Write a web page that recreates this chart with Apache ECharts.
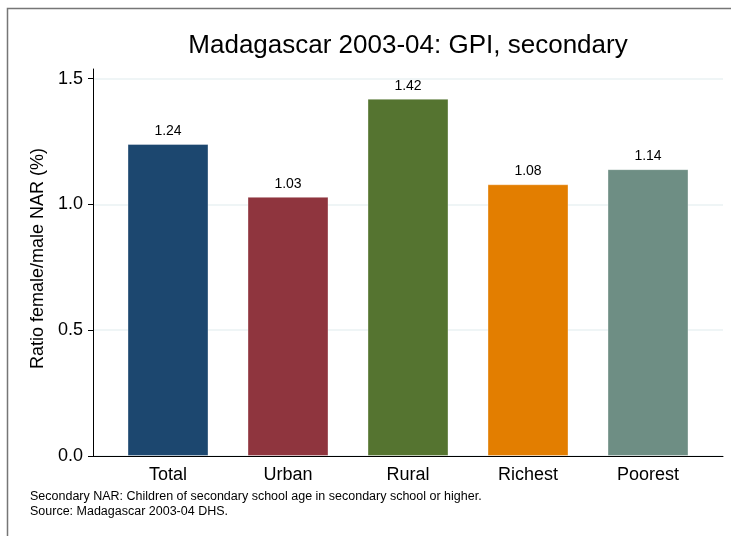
<!DOCTYPE html>
<html>
<head>
<meta charset="utf-8">
<script src="https://cdn.jsdelivr.net/npm/echarts@6/dist/echarts.min.js"></script>
<style>
  html, body { margin: 0; padding: 0; background: #fff; }
  #chart { width: 731px; height: 536px; }
</style>
</head>
<body>
<div id="chart"></div>
<script>
// data
const categories = ['Total', 'Urban', 'Rural', 'Richest', 'Poorest']
const gpiValues = [1.24, 1.03, 1.42, 1.08, 1.14]
const barColors = ['#1c476f', '#8f353e', '#557430', '#e37e00', '#6e8e84']
const yTicks = [0, 0.5, 1.0, 1.5]
const catPositions = [1, 2, 3, 4, 5]
const notes = [
  'Secondary NAR: Children of secondary school age in secondary school or higher.',
  'Source: Madagascar 2003-04 DHS.'
]

const font = '"Liberation Sans", Arial, Helvetica, sans-serif'
const chart = echarts.init(document.getElementById('chart'), null, { renderer: 'canvas' })

const barData = gpiValues.map((v, i) => ({
  value: [catPositions[i], v],
  itemStyle: { color: barColors[i] }
}))

const option = {
  animation: false,
  backgroundColor: '#fff',
  textStyle: { fontFamily: font },
  title: {
    text: 'Madagascar 2003-04: GPI, secondary',
    left: 403,
    top: 28,
    textAlign: 'center',
    textStyle: { fontFamily: font, fontSize: 26, fontWeight: 'normal', color: '#000' }
  },
  graphic: [
    {
      type: 'rect',
      shape: { x: 7.5, y: 8.5, width: 800, height: 600 },
      style: { fill: 'none', stroke: '#767676', lineWidth: 1.5 },
      silent: true
    },
    {
      type: 'text',
      left: 30,
      top: 489,
      style: {
        text: notes.join('\n'),
        font: '12.5px ' + font,
        lineHeight: 15,
        fill: '#000'
      }
    }
  ],
  grid: { left: 93, right: 8, top: 69, bottom: 80, containLabel: false },
  xAxis: {
    type: 'value',
    min: 0.375,
    max: 5.625,
    axisLine: { show: true, lineStyle: { color: '#000', width: 1 } },
    axisTick: { show: false },
    splitLine: { show: false },
    axisLabel: {
      customValues: catPositions,
      formatter: (v) => categories[Math.round(v) - 1] || '',
      fontSize: 18,
      color: '#000',
      margin: 10
    }
  },
  yAxis: {
    type: 'value',
    min: 0,
    max: 1.538,
    name: 'Ratio female/male NAR (%)',
    nameLocation: 'middle',
    nameGap: 46,
    nameTextStyle: { fontSize: 18, color: '#000', padding: [0, 0, 0, 8] },
    axisLine: { show: true, lineStyle: { color: '#000', width: 1 } },
    axisTick: { show: true, length: 5, customValues: yTicks, lineStyle: { color: '#000' } },
    axisLabel: {
      customValues: yTicks,
      formatter: (v) => v.toFixed(1),
      fontSize: 18,
      color: '#000',
      margin: 10
    },
    splitLine: { show: true, lineStyle: { color: '#eaf2f3', width: 1.5 } }
  },
  series: [
    {
      type: 'bar',
      barWidth: 81,
      data: barData,
      itemStyle: { borderColor: 'rgba(255,255,255,0.35)', borderWidth: 1 },
      label: {
        show: true,
        position: 'top',
        distance: 6,
        fontSize: 14,
        color: '#000',
        formatter: (p) => p.value[1].toFixed(2)
      }
    }
  ]
}

chart.setOption(option)
</script>
</body>
</html>
